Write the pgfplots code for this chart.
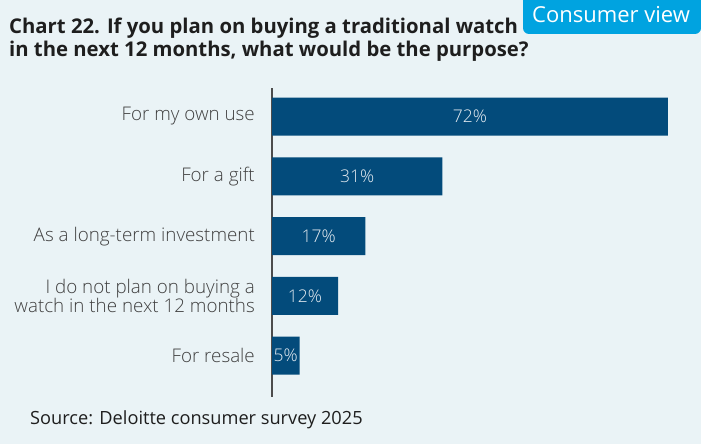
\documentclass[border=0pt]{standalone}
\usepackage{pgfplots}
\pgfplotsset{compat=1.18}
\usepackage{pgfplotstable}
\usepackage{fontspec}
\setmainfont{Open Sans}
\newfontfamily\lightfont{Open Sans Light}
\definecolor{bgc}{HTML}{EAF3F6}
\definecolor{barblue}{HTML}{034B7B}
\definecolor{badge}{HTML}{00A3E0}
\definecolor{titlec}{HTML}{1E1E1E}
\definecolor{labc}{HTML}{404040}
\definecolor{valc}{HTML}{E4EBF1}
\pgfplotstableread{
idx v
0 72
1 31
2 17
3 12
4 5
}\data
\begin{document}
\begin{tikzpicture}[x=1pt,y=1pt]
\fill[bgc] (0,0) rectangle (701,444);
\useasboundingbox (0,0) rectangle (701,444);
\fill[badge] (701,444) -- (523,444) {[rounded corners=6pt] -- (523,410) -- (701,410)} -- cycle;
\node[anchor=base, text=white, font=\fontsize{22}{24}\selectfont] at (611,421) {Consumer view};
\node[anchor=base west, text=titlec, font=\bfseries\fontsize{20.3}{23}\selectfont, inner sep=0pt] at (9,410) {Chart 22. If you plan on buying a traditional watch};
\node[anchor=base west, text=titlec, font=\bfseries\fontsize{20.3}{23}\selectfont, inner sep=0pt] at (9,387.3) {in the next 12 months, what would be the purpose?};
\node[anchor=base west, text=titlec, font=\fontsize{18.2}{20}\selectfont, inner sep=0pt] at (30,19) {Source: Deloitte consumer survey 2025};
\begin{axis}[
  at={(272pt,47pt)}, anchor=south west,
  width=396pt, height=309pt, scale only axis,
  xmin=0, xmax=72,
  ymin=-0.477, ymax=4.69,
  y dir=reverse,
  axis x line=none,
  axis y line*=left,
  axis line style={-, draw=black!70, line width=1.2pt},
  ytick={0,1,2,3,4},
  yticklabels={For my own use, For a gift, As a long-term investment, {I do not plan on buying a\\watch in the next 12 months}, For resale},
  major tick length=0pt,
  yticklabel style={align=right, text=labc, font=\lightfont\fontsize{18.8}{19.5}\selectfont, inner sep=0pt, xshift=-17pt},
  /pgf/number format/assume math mode=true,
  clip=false,
]
\addplot[xbar, fill=barblue, draw=none, bar width=38pt] table[x=v, y=idx]{\data};
\addplot[draw=none, nodes near coords={\pgfmathprintnumber[assume math mode=true]{\pgfplotspointmeta}\%}, point meta=explicit,
  nodes near coords style={anchor=center, text=valc, font=\lightfont\fontsize{17.5}{20}\selectfont, inner sep=0pt}]
  table[x expr=\thisrow{v}/2, y=idx, meta=v]{\data};
\end{axis}
\end{tikzpicture}
\end{document}
